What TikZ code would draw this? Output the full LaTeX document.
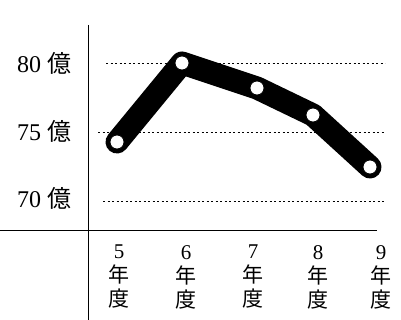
\documentclass[tikz,border=0pt]{standalone}
\usepackage{fontspec}
\setmainfont{Liberation Serif}
\newfontfamily\jp{Noto Sans CJK JP}
\usepackage{tikz}

\tikzset{
    grid line/.style={line width=0.6pt, dash pattern=on 2pt off 2.5pt},
    value label/.style={font=\fontsize{24}{28}\selectfont},
    year label/.style={font=\fontsize{21}{24}\selectfont, align=center, inner sep=0pt},
    dot/.style={circle, fill=white, draw=black, line width=0.8pt, minimum size=14pt, inner sep=0pt}
}

\begin{document}
\begin{tikzpicture}[x=1pt, y=-1pt]
            \useasboundingbox (0, 0) rectangle (401, 320);

            \draw[line width=0.8pt] (88, 25) -- (88, 320);
            \draw[line width=0.8pt] (0, 230) -- (377, 230);

            \draw[grid line] (106, 63) -- (385, 63);
            \draw[grid line] (98, 132) -- (385, 132);
            \draw[grid line] (103, 201) -- (385, 201);

            \node[value label] (l80) at (44, 63) {80 {\jp 億}};
            \node[value label] (l75) at (44, 131) {75 {\jp 億}};
            \node[value label] (l70) at (44, 198) {70 {\jp 億}};

            \coordinate (p5) at (117, 142);
            \coordinate (p6) at (182, 63);
            \coordinate (p7) at (257, 88);
            \coordinate (p8) at (313, 115);
            \coordinate (p9) at (370, 167);
            \draw[line width=23pt, line cap=round, line join=round]
                (p5) -- (p6) -- (p7) -- (p8) -- (p9);
            \node[dot] at (p5) {};
            \node[dot] at (p6) {};
            \node[dot] at (p7) {};
            \node[dot] at (p8) {};
            \node[dot] at (p9) {};

            \node[year label, anchor=north] (y5) at (119, 245) {5\\{\jp 年}\\{\jp 度}};
            \node[year label, anchor=north] (y6) at (186, 245) {6\\{\jp 年}\\{\jp 度}};
            \node[year label, anchor=north] (y7) at (253, 245) {7\\{\jp 年}\\{\jp 度}};
            \node[year label, anchor=north] (y8) at (318, 245) {8\\{\jp 年}\\{\jp 度}};
            \node[year label, anchor=north] (y9) at (381, 245) {9\\{\jp 年}\\{\jp 度}};
        \end{tikzpicture}
\end{document}
